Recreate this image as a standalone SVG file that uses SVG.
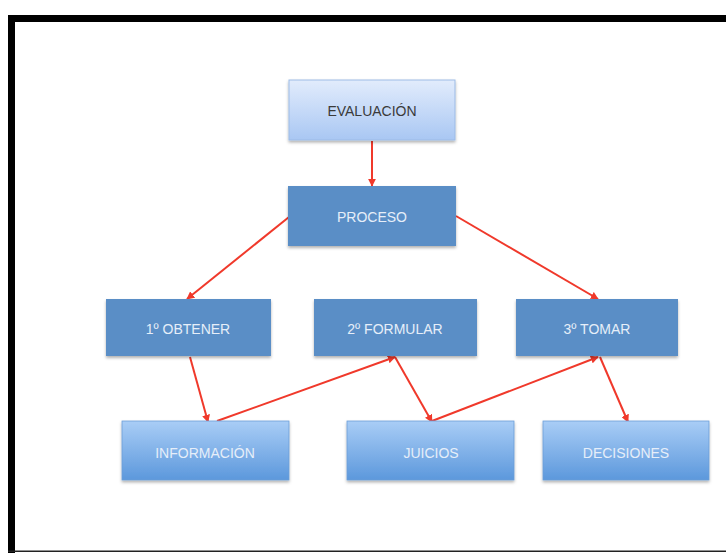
<svg xmlns="http://www.w3.org/2000/svg" width="726" height="553" viewBox="0 0 726 553">
<defs>
<linearGradient id="gTop" x1="0" y1="0" x2="0" y2="1">
<stop offset="0" stop-color="#e2ecfc"/>
<stop offset="1" stop-color="#a9c7f3"/>
</linearGradient>
<linearGradient id="gBot" x1="0" y1="0" x2="0" y2="1">
<stop offset="0" stop-color="#a9cdf6"/>
<stop offset="1" stop-color="#5c98dc"/>
</linearGradient>
<filter id="sh" x="-10%" y="-10%" width="130%" height="140%">
<feDropShadow dx="0" dy="2" stdDeviation="1.5" flood-color="#000" flood-opacity="0.3"/>
</filter>
<marker id="ah" viewBox="0 0 10 10" refX="9" refY="5" markerWidth="8" markerHeight="8" markerUnits="userSpaceOnUse" orient="auto">
<path d="M0,0 L10,5 L0,10 z" fill="#f0392b"/>
</marker>
<style>
.t{font-family:"Liberation Sans",Arial,sans-serif;font-size:14px;text-anchor:middle;dominant-baseline:central}
.dark{fill:#3a3a3a}
.light{fill:#e6eef9}
.solid{fill:#5a8ec6;filter:url(#sh)}
.top{fill:url(#gTop);stroke:#9dbbe6;stroke-width:1;filter:url(#sh)}
.bot{fill:url(#gBot);stroke:#6d9fd8;stroke-width:0.8;filter:url(#sh)}
.c{stroke:#f0392b;stroke-width:2;fill:none;marker-end:url(#ah)}
</style>
</defs>
<rect width="726" height="553" fill="#fff"/>
<g id="frame">
<rect x="8" y="15" width="718" height="7" fill="#000"/>
<rect x="8" y="15" width="7" height="538" fill="#000"/>
<rect x="8" y="550.5" width="718" height="1.5" fill="#222"/>
</g>
<g id="connectors">
<line class="c" x1="372" y1="141" x2="372" y2="186"/>
<line class="c" x1="289" y1="217" x2="187" y2="299"/>
<line class="c" x1="456" y1="216" x2="598" y2="299"/>
<line class="c" x1="190" y1="357" x2="208" y2="422"/>
<line class="c" x1="217" y1="421" x2="395" y2="357"/>
<line class="c" x1="395" y1="357" x2="432" y2="422"/>
<line class="c" x1="432" y1="421" x2="598" y2="357"/>
<line class="c" x1="600" y1="357" x2="628" y2="422"/>
</g>
<g id="n-evaluacion">
<rect class="top" x="289" y="80" width="166" height="60"/>
<text class="t dark" x="372" y="111">EVALUACIÓN</text>
</g>
<g id="n-proceso">
<rect class="solid" x="288" y="186" width="168" height="60"/>
<text class="t light" x="372" y="217">PROCESO</text>
</g>
<g id="n-obtener">
<rect class="solid" x="106" y="299" width="165" height="57"/>
<text class="t light" x="188" y="329">1º OBTENER</text>
</g>
<g id="n-formular">
<rect class="solid" x="314" y="299" width="163" height="57"/>
<text class="t light" x="395" y="329">2º FORMULAR</text>
</g>
<g id="n-tomar">
<rect class="solid" x="516" y="299" width="162" height="57"/>
<text class="t light" x="597" y="329">3º TOMAR</text>
</g>
<g id="n-informacion">
<rect class="bot" x="122" y="421" width="167" height="59"/>
<text class="t light" x="205" y="453">INFORMACIÓN</text>
</g>
<g id="n-juicios">
<rect class="bot" x="347" y="421" width="167" height="59"/>
<text class="t light" x="431" y="453">JUICIOS</text>
</g>
<g id="n-decisiones">
<rect class="bot" x="543" y="421" width="166" height="59"/>
<text class="t light" x="626" y="453">DECISIONES</text>
</g>
</svg>
